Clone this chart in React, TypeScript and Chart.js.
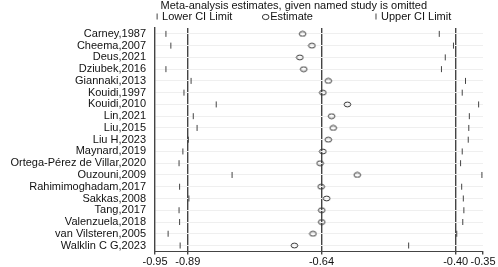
import React, { useEffect, useRef } from "react";
import { Chart, registerables } from "chart.js";

Chart.register(...registerables);

const studies = [
  "Carney,1987",
  "Cheema,2007",
  "Deus,2021",
  "Dziubek,2016",
  "Giannaki,2013",
  "Kouidi,1997",
  "Kouidi,2010",
  "Lin,2021",
  "Liu,2015",
  "Liu H,2023",
  "Maynard,2019",
  "Ortega-Pérez de Villar,2020",
  "Ouzouni,2009",
  "Rahimimoghadam,2017",
  "Sakkas,2008",
  "Tang,2017",
  "Valenzuela,2018",
  "van Vilsteren,2005",
  "Walklin C G,2023",
];

const lowerCI = [
  -0.930, -0.921, -0.951, -0.930, -0.884, -0.897, -0.838, -0.880, -0.873, -0.889,
  -0.899, -0.906, -0.809, -0.905, -0.888, -0.906, -0.905, -0.926, -0.904,
];

const estimates = [
  -0.680, -0.663, -0.685, -0.678, -0.633, -0.643, -0.598, -0.627, -0.624, -0.633,
  -0.643, -0.648, -0.580, -0.646, -0.636, -0.645, -0.645, -0.661, -0.695,
];

const upperCI = [
  -0.430, -0.404, -0.419, -0.426, -0.382, -0.388, -0.358, -0.375, -0.376, -0.377,
  -0.388, -0.391, -0.352, -0.389, -0.386, -0.385, -0.387, -0.398, -0.486,
];

const tickValues = [-0.95, -0.89, -0.6455, -0.4, -0.35];
const tickLabels = ["-0.95", "-0.89", "-0.64", "-0.40", "-0.35"];
const refLineValues = [-0.89, -0.6455, -0.4];

const titleText = "Meta-analysis estimates, given named study is omitted";
const legendLabels = ["Lower CI Limit", "Estimate", "Upper CI Limit"];

const FONT = "'Liberation Sans', Arial, sans-serif";
const INK = "#111";
const LINE = "#444";

function makeEllipse(): HTMLCanvasElement {
  const c = document.createElement("canvas");
  c.width = 9;
  c.height = 7;
  const ctx = c.getContext("2d")!;
  ctx.strokeStyle = "#333";
  ctx.lineWidth = 1;
  ctx.beginPath();
  ctx.ellipse(4.5, 3.5, 3.3, 2.4, 0, 0, Math.PI * 2);
  ctx.stroke();
  return c;
}

const headerPlugin = {
  id: "header",
  afterDraw(chart: any) {
    const ctx = chart.ctx;
    const w = chart.width;
    ctx.save();
    ctx.fillStyle = INK;
    ctx.font = `11px ${FONT}`;
    ctx.textBaseline = "middle";
    ctx.textAlign = "center";
    ctx.fillText(titleText, w * 0.59, 6);
    ctx.textAlign = "left";
    const y = 16.5;
    const bar = (x: number) => {
      ctx.strokeStyle = LINE;
      ctx.lineWidth = 1;
      ctx.beginPath();
      ctx.moveTo(x, y - 3);
      ctx.lineTo(x, y + 3);
      ctx.stroke();
    };
    const x1 = w * 0.3155;
    bar(x1);
    ctx.fillText(legendLabels[0], x1 + 5, y);
    const x2 = w * 0.5335;
    ctx.strokeStyle = "#333";
    ctx.beginPath();
    ctx.ellipse(x2, y + 0.5, 3.3, 2.6, 0, 0, Math.PI * 2);
    ctx.stroke();
    ctx.fillText(legendLabels[1], x2 + 4.5, y);
    const x3 = w * 0.755;
    bar(x3);
    ctx.fillText(legendLabels[2], x3 + 5, y);
    ctx.restore();
  },
};

export default function App() {
  const ref = useRef<HTMLCanvasElement | null>(null);

  useEffect(() => {
    if (!ref.current) return;
    const ellipse = makeEllipse();
    const toPts = (arr: number[]) => arr.map((v, i) => ({ x: v, y: i }));

    const chart = new Chart(ref.current, {
      type: "scatter",
      data: {
        datasets: [
          {
            label: legendLabels[0],
            data: toPts(lowerCI),
            pointStyle: "line",
            rotation: 90,
            radius: 3,
            borderWidth: 1,
            borderColor: LINE,
            backgroundColor: LINE,
          },
          {
            label: legendLabels[1],
            data: toPts(estimates),
            pointStyle: ellipse as any,
            radius: 3.5,
          },
          {
            label: legendLabels[2],
            data: toPts(upperCI),
            pointStyle: "line",
            rotation: 90,
            radius: 3,
            borderWidth: 1,
            borderColor: LINE,
            backgroundColor: LINE,
          },
        ],
      },
      options: {
        responsive: false,
        animation: false,
        layout: { padding: { top: 28, right: 15, left: 0, bottom: 0 } },
        plugins: {
          legend: { display: false },
          title: { display: false },
          tooltip: { enabled: false },
        },
        scales: {
          x: {
            type: "linear",
            min: -0.95,
            max: -0.35,
            afterBuildTicks: (scale: any) => {
              scale.ticks = tickValues.map((v) => ({ value: v }));
            },
            afterFit: (scale: any) => {
              scale.height = 14;
            },
            ticks: {
              autoSkip: false,
              maxRotation: 0,
              padding: 1,
              color: INK,
              font: { family: FONT, size: 11 },
              callback: (v: any) => {
                const i = tickValues.indexOf(Number(v));
                return i >= 0 ? tickLabels[i] : "";
              },
            },
            grid: {
              drawOnChartArea: true,
              tickLength: 3,
              tickColor: LINE,
              lineWidth: 1.4,
              color: (c: any) => {
                const v = c.tick ? c.tick.value : null;
                return v !== null && refLineValues.indexOf(v) >= 0 ? LINE : "rgba(0,0,0,0)";
              },
            },
            border: { display: true, color: LINE, width: 1 },
          },
          y: {
            type: "linear",
            min: -0.5,
            max: 18.5,
            reverse: true,
            afterBuildTicks: (scale: any) => {
              scale.ticks = studies.map((_, i) => ({ value: i }));
            },
            afterFit: (scale: any) => {
              scale.width = 155;
            },
            ticks: {
              autoSkip: false,
              padding: 9,
              color: INK,
              font: { family: FONT, size: 11 },
              callback: (v: any) => studies[Number(v)] ?? "",
            },
            grid: {
              drawTicks: false,
              color: "#efefef",
              lineWidth: 1,
            },
            border: { display: true, color: LINE, width: 1.4 },
          },
        },
      },
      plugins: [headerPlugin],
    });

    return () => chart.destroy();
  }, []);

  return (
    <div style={{ position: "absolute", left: 0, top: 0, width: 498, height: 267, background: "#fff" }}>
      <canvas ref={ref} width={498} height={267} style={{ display: "block" }} />
    </div>
  );
}
